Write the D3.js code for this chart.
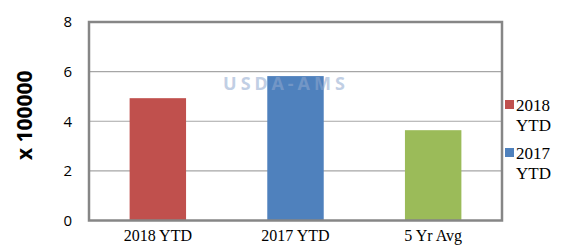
<!DOCTYPE html>
<html><head><meta charset="utf-8">
<script src="https://cdn.jsdelivr.net/npm/d3@7"></script>
<style>body{margin:0;background:#fff}svg{display:block}</style>
</head><body>
<script>
const categories = ["2018 YTD", "2017 YTD", "5 Yr Avg"];
const values = [4.93, 5.82, 3.64];
const barColors = ["#C0504D", "#4F81BD", "#9BBB59"];
const yTicks = [0, 2, 4, 6, 8];
const legendLabels = [["2018", "YTD"], ["2017", "YTD"]];
const legendColors = ["#C0504D", "#4F81BD"];
const yTitle = "x 100000";
const watermark = "USDA-AMS";

const W = 561, H = 249;
const m = {left: 89, right: 59, top: 22, bottom: 28.5};
const svg = d3.select("body").append("svg").attr("width", W).attr("height", H);

const x = d3.scaleBand().domain(categories).range([m.left, W - m.right]).padding(0);
const y = d3.scaleLinear().domain([0, 8]).range([H - m.bottom, m.top]);

// gridlines
svg.append("g").selectAll("line").data(yTicks.filter(t => t > 0 && t < 8)).join("line")
  .attr("x1", m.left).attr("x2", W - m.right)
  .attr("y1", d => y(d)).attr("y2", d => y(d))
  .attr("stroke", "#a6a6a6").attr("stroke-width", 1.2);

// bars
const bw = x.bandwidth() * 0.41;
svg.append("g").selectAll("rect").data(values).join("rect")
  .attr("x", (d, i) => x(categories[i]) + x.bandwidth() / 2 - bw / 2)
  .attr("width", bw)
  .attr("y", d => y(d))
  .attr("height", d => y(0) - y(d))
  .attr("fill", (d, i) => barColors[i]);

// watermark (drawn over the bars, faint)
svg.append("text").text(watermark)
  .attr("x", 286).attr("y", 90).attr("text-anchor", "middle")
  .attr("font-family", "Noto Sans").attr("font-size", 18).attr("font-weight", "bold")
  .attr("letter-spacing", 4)
  .attr("fill", "#8fa8cf").attr("opacity", 0.55);

// frame
svg.append("rect")
  .attr("x", m.left).attr("y", m.top)
  .attr("width", W - m.right - m.left).attr("height", H - m.bottom - m.top)
  .attr("fill", "none").attr("stroke", "#868686").attr("stroke-width", 2.5);

// y axis
const ya = svg.append("g").attr("transform", `translate(${m.left},0)`)
  .call(d3.axisLeft(y).tickValues(yTicks).tickSize(0).tickPadding(17).tickFormat(d3.format("d")));
ya.select(".domain").remove();
ya.selectAll("text").attr("font-family", "Open Sans").attr("font-size", 15).attr("fill", "#000");

// x axis
const xa = svg.append("g").attr("transform", `translate(0,${H - m.bottom})`)
  .call(d3.axisBottom(x).tickSize(0).tickPadding(9));
xa.select(".domain").remove();
xa.selectAll("text").attr("font-family", "Liberation Serif").attr("font-size", 16).attr("fill", "#000");

// y title
svg.append("text").text(yTitle)
  .attr("transform", `translate(32,${(m.top + H - m.bottom) / 2 - 6}) rotate(-90)`)
  .attr("text-anchor", "middle")
  .attr("font-family", "Open Sans").attr("font-weight", "bold").attr("font-size", 21).attr("fill", "#000");

// legend
const lg = svg.append("g");
legendLabels.forEach((lab, i) => {
  const gy = 100 + i * 48;
  lg.append("rect").attr("x", 505).attr("y", gy).attr("width", 9).attr("height", 9).attr("fill", legendColors[i]);
  const t = lg.append("text").attr("font-family", "Liberation Serif").attr("font-size", 17).attr("fill", "#000");
  t.append("tspan").attr("x", 516).attr("y", gy + 11).text(lab[0]);
  t.append("tspan").attr("x", 516).attr("y", gy + 31).text(lab[1]);
});
</script>
</body></html>
